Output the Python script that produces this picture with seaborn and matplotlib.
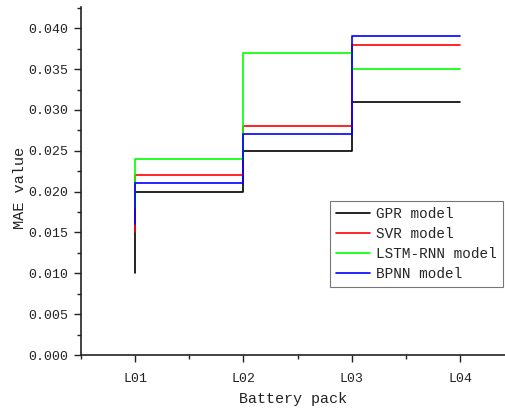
import numpy as np
import pandas as pd
import matplotlib
matplotlib.use("Agg")
import matplotlib.pyplot as plt
from matplotlib.ticker import MultipleLocator, FormatStrFormatter
import seaborn as sns

# Battery packs on the x axis
packs = ["L01", "L02", "L03", "L04"]

# MAE per model for each battery pack
gpr_mae = [0.010, 0.020, 0.025, 0.031]
svr_mae = [0.015, 0.022, 0.028, 0.038]
lstm_mae = [0.018, 0.024, 0.037, 0.035]
bpnn_mae = [0.016, 0.021, 0.027, 0.039]

models = ["GPR model", "SVR model", "LSTM-RNN model", "BPNN model"]
colors = ["#000000", "#ff0000", "#00ff00", "#0000ff"]

series = [gpr_mae, svr_mae, lstm_mae, bpnn_mae]
df = pd.DataFrame({
    "pack": np.tile(np.arange(1, len(packs) + 1), len(models)),
    "mae": np.concatenate(series),
    "model": np.repeat(models, len(packs)),
})

sns.set_style("ticks")
plt.rcParams["font.family"] = ["Liberation Mono", "DejaVu Sans Mono"]

fig = plt.figure(figsize=(5.05, 4.15), dpi=100)
W, H = 505, 415
ax = fig.add_axes([81 / W, 1 - 355 / H, (W - 81) / W, (355 - 7) / H])

sns.lineplot(data=df, x="pack", y="mae", hue="model", hue_order=models,
             palette=dict(zip(models, colors)), estimator=None,
             drawstyle="steps-pre", linewidth=1.2, ax=ax)

ax.set_xlim(0.5, 4.415)
ax.set_ylim(0.0, 0.0426)
ax.set_xticks(range(1, len(packs) + 1))
ax.set_xticklabels(packs)
ax.xaxis.set_minor_locator(MultipleLocator(0.5))
ax.yaxis.set_major_locator(MultipleLocator(0.005))
ax.yaxis.set_minor_locator(MultipleLocator(0.0025))
ax.yaxis.set_major_formatter(FormatStrFormatter("%.3f"))

for side in ("top", "right"):
    ax.spines[side].set_visible(False)
for side in ("left", "bottom"):
    ax.spines[side].set_linewidth(1.2)
    ax.spines[side].set_color("#222222")

ax.tick_params(axis="both", which="major", direction="out", length=5,
               width=1.0, labelsize=9.5, colors="#222222", pad=4)
ax.tick_params(axis="both", which="minor", direction="out", length=3, width=1.0,
               colors="#222222")
ax.tick_params(axis="x", pad=8)

ax.set_xlabel("Battery pack", fontsize=10.8, color="#222222")
ax.set_ylabel("MAE value", fontsize=11, color="#222222")
ax.xaxis.set_label_coords(0.5, -(399 - 355) / 348, transform=ax.transAxes)
ax.yaxis.set_label_coords(-(81 - 20) / 424, (355 - 188) / 348)
ax.xaxis.label.set_va("center")
ax.yaxis.label.set_va("center")

leg = ax.legend(loc="upper left", bbox_to_anchor=(330 / W, 1 - 201 / H),
                bbox_transform=fig.transFigure, frameon=True, fancybox=False,
                fontsize=10.4, handlelength=2.4, handletextpad=0.4,
                labelspacing=0.42, borderpad=0.4, borderaxespad=0.0)
leg.get_frame().set_edgecolor("#555555")
leg.get_frame().set_linewidth(0.8)
for line in leg.get_lines():
    line.set_linewidth(1.2)

fig.savefig("out.png", dpi=100)
